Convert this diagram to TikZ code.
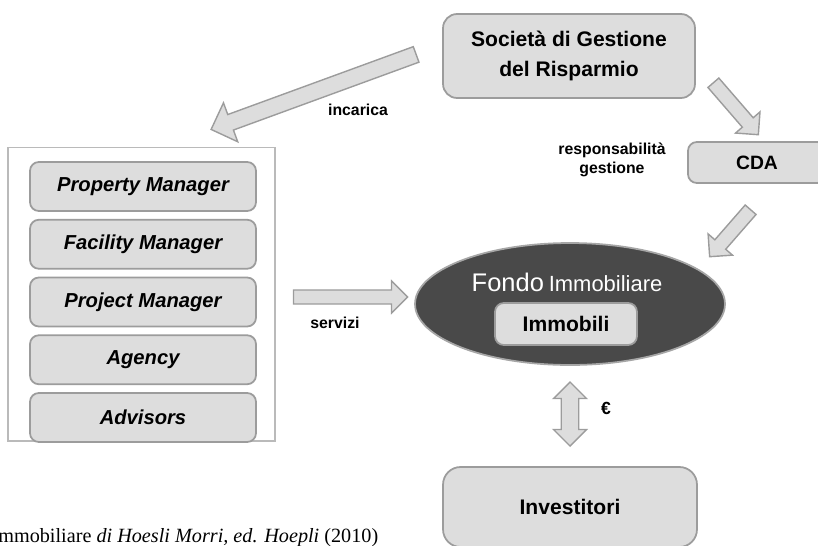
\documentclass[tikz,border=0pt]{standalone}
\usepackage{fontspec}
\setmainfont{Liberation Serif}
\setsansfont{Liberation Sans}
\usetikzlibrary{positioning,calc,shapes.geometric,shapes.arrows}
\definecolor{boxgray}{HTML}{DDDDDD}
\definecolor{linegray}{HTML}{9C9C9C}
\definecolor{fondogray}{HTML}{494949}
\tikzset{
    %Define style for boxes
    blocco/.style={
           rectangle,
           rounded corners=8pt,
           draw=linegray, line width=1pt,
           fill=boxgray,
           font=\sffamily\bfseries,
           align=center,
           text centered},
    ruolo/.style={
           blocco,
           rounded corners=5pt,
           minimum width=4.52cm,
           minimum height=0.98cm,
           font=\sffamily\bfseries\itshape\fontsize{11.5}{13}\selectfont},
    etichetta/.style={
           font=\sffamily\bfseries\fontsize{9}{11}\selectfont,
           align=center},
    % Define fat arrow styles
    freccia/.style={
           single arrow,
           draw=linegray, line width=0.8pt,
           fill=boxgray,
           inner xsep=0pt,
           minimum width=0pt},
    doppia/.style={
           double arrow,
           draw=linegray, line width=0.8pt,
           fill=boxgray,
           inner xsep=0pt,
           minimum width=0pt}
}
% fat arrow from #2 to #3, style options #1
\newcommand{\fatarrow}[3][freccia]{%
  \path let \p1=(#2), \p2=(#3),
    \n1={atan2(\y2-\y1,\x2-\x1)}, \n2={veclen(\x2-\x1,\y2-\y1)} in
    node[#1, rotate=\n1, minimum height=\n2] at ($(#2)!0.5!(#3)$) {};}

\begin{document}
\begin{tikzpicture}[x=0.02cm,y=-0.02cm]
\useasboundingbox (0,0) rectangle (818,545);

% management company and board
\node[blocco, minimum width=5.04cm, minimum height=1.68cm,
  font=\sffamily\bfseries\fontsize{12}{17}\selectfont] (sgr) at (569,56)
  {Società di Gestione\\del Risparmio};
\node[blocco, rounded corners=5pt, minimum width=2.76cm, minimum height=0.82cm,
  font=\sffamily\bfseries\fontsize{11}{13}\selectfont] (cda) at (757,162.5) {CDA};

% service providers
\node[rectangle, draw=linegray!70, line width=0.6pt, fill=white,
  minimum width=5.34cm, minimum height=5.88cm] (team) at (141.5,294) {};
\node[ruolo] (pm) at (143,186.5) {Property Manager};
\node[ruolo, below=0.14cm of pm] (fm) {Facility Manager};
\node[ruolo, below=0.14cm of fm] (prj) {Project Manager};
\node[ruolo, below=0.14cm of prj] (ag) {Agency};
\node[ruolo, below=0.14cm of ag] (adv) {Advisors};

% fund
\node[ellipse, draw=black!35, line width=1pt, fill=fondogray,
  minimum width=6.2cm, minimum height=2.44cm] (fondo) at (570,304) {};
\node[text=white, font=\sffamily] (titolo) at (567,282)
  {{\fontsize{14.5}{16}\selectfont Fondo} {\fontsize{12.5}{14}\selectfont Immobiliare}};
\node[blocco, rounded corners=5pt, minimum width=2.84cm, minimum height=0.84cm,
  font=\sffamily\bfseries\fontsize{12}{14}\selectfont] (imm) at (566,324) {Immobili};

% investors
\node[blocco, rounded corners=10pt, minimum width=5.08cm, minimum height=1.6cm,
  font=\sffamily\bfseries\fontsize{12}{14}\selectfont] (inv) at (570,507) {Investitori};

% arrow end points
\coordinate (a1) at (420,53);   \coordinate (a2) at (215,128);
\coordinate (b1) at (711,80);   \coordinate (b2) at (756,132);
\coordinate (c1) at (753,207);  \coordinate (c2) at (712,254);
\coordinate (d1) at (290,297);  \coordinate (d2) at (404,297);
\coordinate (e1) at (570,382);  \coordinate (e2) at (570,446);

\fatarrow[freccia, inner ysep=4.3pt, single arrow head extend=7.1pt]{a1}{a2}
\fatarrow[freccia, inner ysep=3.7pt, single arrow head extend=5.1pt]{b1}{b2}
\fatarrow[freccia, inner ysep=3.7pt, single arrow head extend=5.1pt]{c1}{c2}
\fatarrow[freccia, inner ysep=3.6pt, single arrow head extend=5.1pt]{d1}{d2}
\fatarrow[doppia, inner ysep=4.6pt, double arrow head extend=4.4pt]{e1}{e2}

% labels
\node[etichetta] (inc) at (358,110) {incarica};
\node[etichetta] (resp) at (612,160) {responsabilità\\gestione};
\node[etichetta] (serv) at (335,323) {servizi};
\node[etichetta, font=\sffamily\bfseries\fontsize{10}{12}\selectfont] (euro) at (606,408) {€};

% source line
\node[anchor=base west, inner sep=0pt, font=\fontsize{11.5}{13}\selectfont] (fonte) at (-2,542)
  {mmobiliare \textit{di Hoesli Morri, ed. Hoepli} (2010)};
\end{tikzpicture}
\end{document}
